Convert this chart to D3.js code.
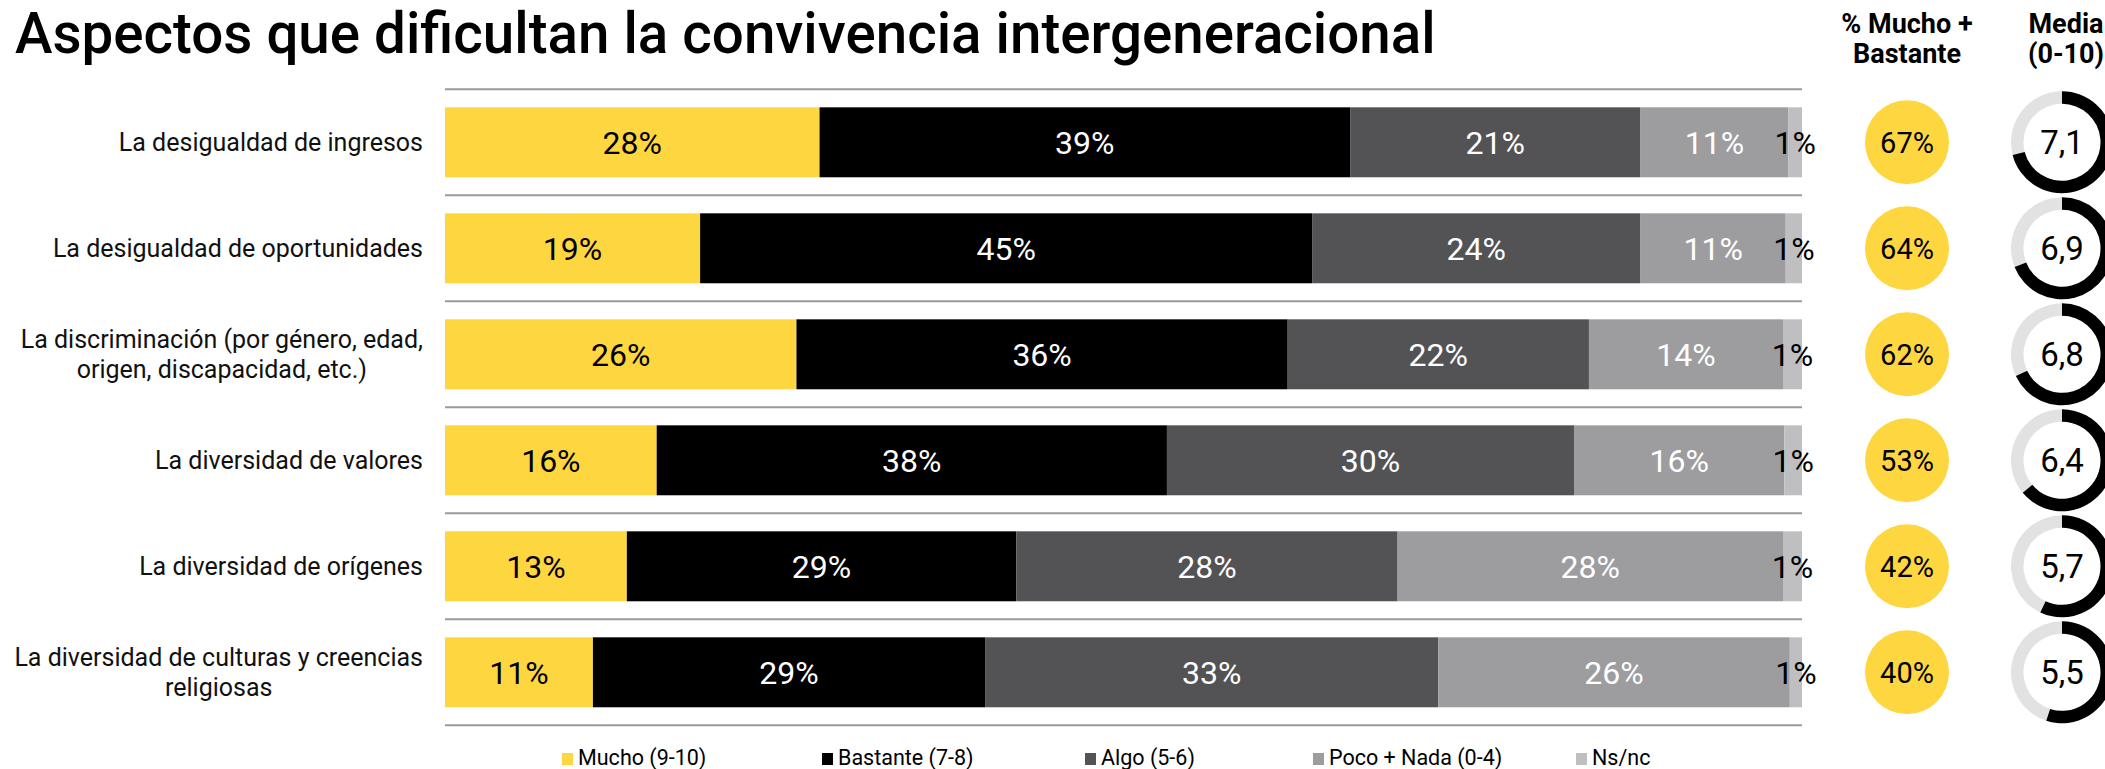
<!DOCTYPE html>
<html>
<head>
<meta charset="utf-8">
<script src="https://cdn.jsdelivr.net/npm/d3@7"></script>
<style>
  html, body { margin: 0; padding: 0; background: #fff; overflow: hidden; }
  text { font-family: Roboto, "Noto Sans", sans-serif; }
</style>
</head>
<body>
<script>
const categories = [
  ["La desigualdad de ingresos"],
  ["La desigualdad de oportunidades"],
  ["La discriminación (por género, edad,", "origen, discapacidad, etc.)"],
  ["La diversidad de valores"],
  ["La diversidad de orígenes"],
  ["La diversidad de culturas y creencias", "religiosas"]
];
const seriesNames = ["Mucho (9-10)", "Bastante (7-8)", "Algo (5-6)", "Poco + Nada (0-4)", "Ns/nc"];
const mucho    = [27.6, 18.8, 25.9, 15.6, 13.4, 10.9];
const bastante = [39.1, 45.1, 36.2, 37.6, 28.7, 28.9];
const algo     = [21.4, 24.2, 22.2, 30.0, 28.1, 33.4];
const poco     = [10.9, 10.7, 14.3, 15.5, 28.4, 25.9];
const nsnc     = [1.0, 1.2, 1.4, 1.3, 1.4, 0.9];
const muchoBastante = [67, 64, 62, 53, 42, 40];
const media = [7.1, 6.9, 6.8, 6.4, 5.7, 5.5];

const colors = ["#fed640", "#000000", "#535355", "#9d9d9f", "#bfbfc1"];
const labelColors = ["#000", "#fff", "#fff", "#fff", "#000"];

const W = 2105, H = 769;
const svg = d3.select("body").append("svg")
  .attr("width", W).attr("height", H);

svg.append("text")
  .attr("x", 15).attr("y", 53)
  .attr("font-size", 56.5).attr("font-weight", 500)
  .text("Aspectos que dificultan la convivencia intergeneracional");

const ids = categories.map((d, i) => i);
const y = d3.scaleBand().domain(ids).range([89.3, 725.3])
  .paddingInner(0.34).paddingOuter(0.17);
const x = d3.scaleLinear().domain([0, 100]).range([445, 1802]);

// separators
const step = y.step();
svg.append("g").selectAll("line")
  .data(d3.range(categories.length + 1))
  .enter().append("line")
  .attr("x1", x(0)).attr("x2", x(100))
  .attr("y1", d => 89.3 + d * step).attr("y2", d => 89.3 + d * step)
  .attr("stroke", "#9a9a9a").attr("stroke-width", 2);

// stacked bars
const series = [mucho, bastante, algo, poco, nsnc];
const rows = ids.map(i => {
  let acc = 0;
  return series.map((s, k) => {
    const seg = { row: i, k, v: s[i], x0: acc, x1: acc + s[i] };
    acc += s[i];
    return seg;
  });
});
const segs = rows.flat();

svg.append("g").selectAll("rect")
  .data(segs).enter().append("rect")
  .attr("x", d => x(d.x0))
  .attr("width", d => x(d.x1) - x(d.x0))
  .attr("y", d => y(d.row))
  .attr("height", y.bandwidth())
  .attr("fill", d => colors[d.k]);

svg.append("g").selectAll("text")
  .data(segs).enter().append("text")
  .attr("x", d => (x(d.x0) + x(d.x1)) / 2)
  .attr("y", d => y(d.row) + y.bandwidth() / 2)
  .attr("dy", "0.36em")
  .attr("text-anchor", "middle")
  .attr("font-size", 32)
  .attr("fill", d => labelColors[d.k])
  .text(d => Math.round(d.v) + "%");

// category labels
const labelRight = 423;
const lineH = 30;
ids.forEach(i => {
  const lines = categories[i];
  const cy = y(i) + y.bandwidth() / 2;
  const g = svg.append("g");
  const t = g.selectAll("text").data(lines).enter().append("text")
    .attr("font-size", 25)
    .attr("fill", "#111")
    .attr("text-anchor", "middle")
    .attr("y", (d, j) => cy + (j - (lines.length - 1) / 2) * lineH)
    .attr("dy", "0.36em")
    .text(d => d);
  let maxW = 0;
  t.each(function () { maxW = Math.max(maxW, this.getComputedTextLength()); });
  t.attr("x", labelRight - maxW / 2);
});

// headers
const cxCircle = 1907, cxDonut = 2062;
[["% Mucho +", "Bastante", cxCircle], ["Media", "(0-10)", 2066]].forEach(h => {
  svg.append("text").attr("x", h[2]).attr("y", 33).attr("text-anchor", "middle")
    .attr("font-size", 27).attr("font-weight", 700).text(h[0]);
  svg.append("text").attr("x", h[2]).attr("y", 63).attr("text-anchor", "middle")
    .attr("font-size", 27).attr("font-weight", 700).text(h[1]);
});

// yellow circles
const circ = svg.append("g").selectAll("g").data(ids).enter().append("g")
  .attr("transform", i => `translate(${cxCircle},${y(i) + y.bandwidth() / 2})`);
circ.append("circle").attr("r", 42).attr("fill", colors[0]);
circ.append("text").attr("text-anchor", "middle").attr("dy", "0.36em")
  .attr("font-size", 29).text(i => muchoBastante[i] + "%");

// donuts
const angle = d3.scaleLinear().domain([0, 10]).range([0, 2 * Math.PI]);
const arc = d3.arc().innerRadius(38.5).outerRadius(51);
const don = svg.append("g").selectAll("g").data(ids).enter().append("g")
  .attr("transform", i => `translate(${cxDonut},${y(i) + y.bandwidth() / 2})`);
don.append("path").attr("fill", "#e2e2e2")
  .attr("d", i => arc({ startAngle: angle(media[i]), endAngle: angle(10) }));
don.append("path").attr("fill", "#000")
  .attr("d", i => arc({ startAngle: 0, endAngle: angle(media[i]) }));
don.append("text").attr("text-anchor", "middle").attr("dy", "0.36em")
  .attr("font-size", 33).text(i => String(media[i]).replace(".", ","));

// legend
const legendX = [562, 822, 1085, 1313, 1576];
const leg = svg.append("g").selectAll("g").data(seriesNames).enter().append("g")
  .attr("transform", (d, k) => `translate(${legendX[k]},0)`);
leg.append("rect").attr("x", 0).attr("y", 753).attr("width", 11).attr("height", 12)
  .attr("fill", (d, k) => colors[k]);
leg.append("text").attr("x", 16).attr("y", 765).attr("font-size", 21.5)
  .text(d => d);
</script>
</body>
</html>
